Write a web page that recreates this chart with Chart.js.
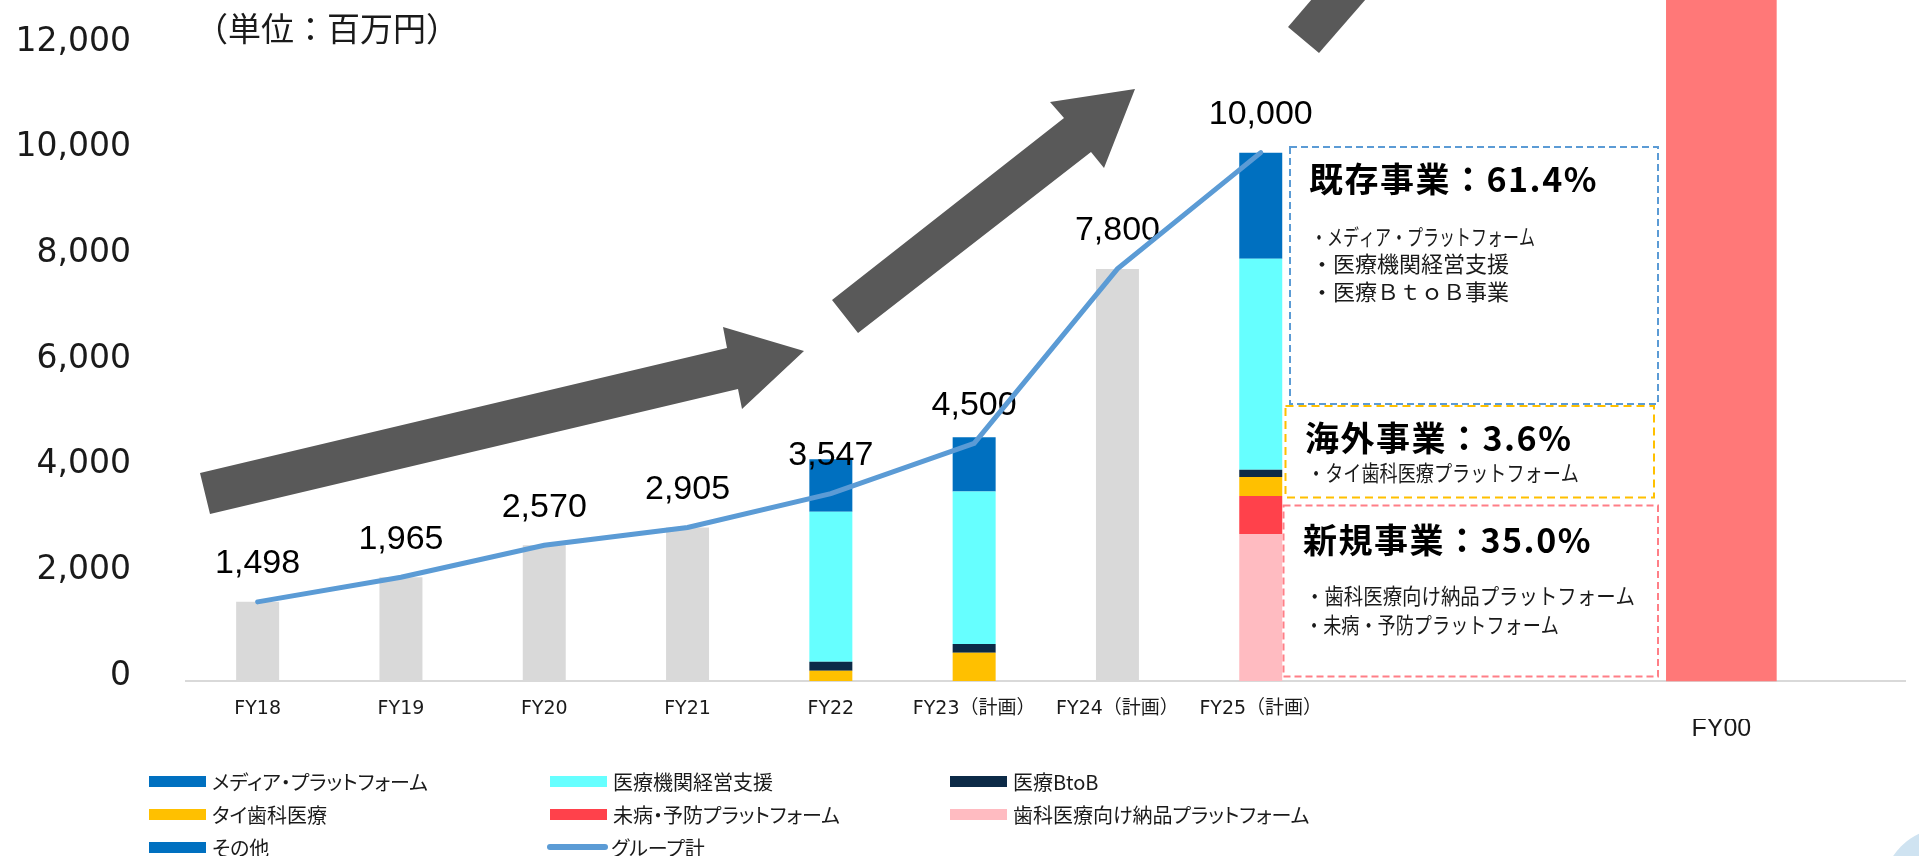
<!DOCTYPE html>
<html lang="ja">
<head>
<meta charset="utf-8">
<title>グループ売上推移</title>
<script src="https://cdn.jsdelivr.net/npm/chart.js@4.4.1/dist/chart.umd.min.js"></script>
<style>
  html, body { margin: 0; padding: 0; background: #fff; }
  #wrap { position: relative; width: 1919px; height: 856px; overflow: hidden; }
  #chart { position: absolute; left: 0; top: 0; }
  #legend { position: absolute; left: 0; top: 0; width: 1919px; height: 856px; pointer-events: none;
    font-family: 'Noto Sans CJK JP', sans-serif; font-size: 20px; color: #1a1a1a; font-feature-settings: 'palt'; }
  .item { position: absolute; display: flex; align-items: center; height: 30px; white-space: nowrap; }
  .item .sw { width: 57px; height: 11px; margin-right: 6px; }
  .item .ln { width: 61px; height: 6px; border-radius: 3px; margin-right: 3px; }
</style>
</head>
<body>
<div id="wrap">
  <canvas id="chart" width="1919" height="856"></canvas>
  <div id="legend"></div>
</div>
<script>
// 値（単位：百万円）
const categories = ['FY18', 'FY19', 'FY20', 'FY21', 'FY22', 'FY23（計画）', 'FY24（計画）', 'FY25（計画）'];
const groupTotal = [1498, 1965, 2570, 2905, 3547, 4500, 7800, 10000];
const totalOnly = [1498, 1965, 2570, 2905, null, null, 7800, null];
const mediaPlatform = [null, null, null, null, 990, 1030, null, 2010];
const clinicSupport = [null, null, null, null, 2840, 2885, null, 3990];
const medicalBtoB = [null, null, null, null, 170, 165, null, 140];
const thaiDental = [null, null, null, null, 195, 535, null, 360];
const preventive = [null, null, null, null, null, null, null, 720];
const dentalSupply = [null, null, null, null, null, null, null, 2780];
const others = [null, null, null, null, null, null, null, null];
const fy00Labels = ['FY00'];
const fy00Values = [13000];
const yTicks = [0, 2000, 4000, 6000, 8000, 10000, 12000];

// レイアウト
const slotCount = 12;      // 8 periods + empty room on the right
const x2Slots = 14;        // finer grid for the separate FY00 bar
const fy00Slot = 12;

const last = categories.length - 1;
const pct = v => (v / groupTotal[last] * 100).toFixed(1) + '%';
const existingShare = pct(mediaPlatform[last] + clinicSupport[last] + medicalBtoB[last]);
const overseasShare = pct(thaiDental[last]);
const newShare = pct(preventive[last] + dentalSupply[last]);

const x2Labels = new Array(x2Slots).fill('');
x2Labels[fy00Slot] = fy00Labels[0];

const arrows = [
  [[200, 473], [727, 348], [723, 327], [804, 351], [742, 409], [738, 389], [210, 514]],
  [[832, 300], [1064, 118], [1050, 102], [1135, 89], [1104, 168], [1091, 152], [858, 333]],
  [[1288, 27], [1312, -1], [1366, -1], [1319, 53]]
];

const boxes = [
  { x: 1290, y: 147, w: 368, h: 257, color: '#5b9bd5', dash: [7, 4],
    title: '既存事業：' + existingShare, tx: 1309, ty: 179,
    lines: [
      { text: '・メディア・プラットフォーム', y: 237, max: 224 },
      { text: '・医療機関経営支援', y: 264 },
      { text: '・医療ＢｔｏＢ事業', y: 292 }
    ] },
  { x: 1285.5, y: 406, w: 368.5, h: 91.5, color: '#ffc000', dash: [8, 5],
    title: '海外事業：' + overseasShare, tx: 1305, ty: 438,
    lines: [
      { text: '・タイ歯科医療プラットフォーム', y: 473, max: 272 }
    ] },
  { x: 1283.5, y: 505.5, w: 374.5, h: 171, color: '#ff7f87', dash: [7, 4],
    title: '新規事業：' + newShare, tx: 1303, ty: 540,
    lines: [
      { text: '・歯科医療向け納品プラットフォーム', y: 596, max: 330 },
      { text: '・未病・予防プラットフォーム', y: 625, max: 254 }
    ] }
];

const valueLabels = {
  id: 'valueLabels',
  beforeDatasetDraw(chart, args) {
    if (chart.data.datasets[args.index].label !== 'グループ計') return;
    const c = chart.ctx;
    c.save();
    c.font = '34px "Liberation Sans", Arial, sans-serif';
    c.fillStyle = '#000';
    c.textAlign = 'center';
    c.textBaseline = 'middle';
    args.meta.data.forEach((pt, i) => {
      c.fillText(groupTotal[i].toLocaleString('en-US'), pt.x, pt.y - 38);
    });
    c.restore();
  }
};

const annotations = {
  id: 'annotations',
  beforeDraw(chart) {
    const c = chart.ctx;
    c.save();
    c.fillStyle = '#cfe3f1';
    c.beginPath();
    c.arc(1945, 890, 62, 0, Math.PI * 2);
    c.fill();
    c.restore();
  },
  afterDraw(chart) {
    const c = chart.ctx;
    c.save();
    c.fillStyle = '#1a1a1a';
    c.font = '33px "Noto Sans CJK JP", sans-serif';
    c.textAlign = 'left';
    c.textBaseline = 'middle';
    c.fillText('（単位：百万円）', 195, 28);

    c.fillStyle = '#595959';
    arrows.forEach(poly => {
      c.beginPath();
      poly.forEach((p, i) => i ? c.lineTo(p[0], p[1]) : c.moveTo(p[0], p[1]));
      c.closePath();
      c.fill();
    });

    boxes.forEach(b => {
      c.setLineDash(b.dash);
      c.lineWidth = 2;
      c.strokeStyle = b.color;
      c.strokeRect(b.x, b.y, b.w, b.h);
      c.setLineDash([]);
      c.fillStyle = '#000';
      c.font = 'bold 34px "Noto Sans CJK JP", sans-serif';
      c.letterSpacing = '1.5px';
      c.fillText(b.title, b.tx, b.ty);
      c.letterSpacing = '0px';
      c.fillStyle = '#1a1a1a';
      c.font = '22px "Noto Sans CJK JP", sans-serif';
      b.lines.forEach(l => {
        if (l.max) c.fillText(l.text, b.tx + 2, l.y, l.max);
        else c.fillText(l.text, b.tx + 2, l.y);
      });
    });
    c.restore();
  }
};

const barSet = (label, data, color) => ({
  type: 'bar', label: label, data: data, backgroundColor: color, stack: 'main', grouped: false,
  borderWidth: 0, barPercentage: 0.3, categoryPercentage: 1, order: 1
});

const ctx = document.getElementById('chart').getContext('2d');
const chart = new Chart(ctx, {
  data: {
    labels: categories.concat(new Array(slotCount - categories.length).fill('')),
    datasets: [
      barSet('実績', totalOnly, '#d9d9d9'),
      barSet('歯科医療向け納品プラットフォーム', dentalSupply, '#ffbbc1'),
      barSet('未病・予防プラットフォーム', preventive, '#ff414b'),
      barSet('タイ歯科医療', thaiDental, '#ffc000'),
      barSet('医療BtoB', medicalBtoB, '#0c2a47'),
      barSet('医療機関経営支援', clinicSupport, '#66ffff'),
      barSet('メディア・プラットフォーム', mediaPlatform, '#0070c0'),
      barSet('その他', others, '#0070c0'),
      {
        type: 'line', label: 'グループ計', data: groupTotal, stack: 'total',
        borderColor: '#5b9bd5', borderWidth: 5, pointRadius: 0, tension: 0,
        borderCapStyle: 'round', fill: false, order: 0
      },
      {
        type: 'bar', label: fy00Labels[0], xAxisID: 'x2', grouped: false, stack: 'fy00',
        data: fy00Values.map((v, i) => ({ x: fy00Labels[i], y: v })),
        backgroundColor: '#ff7878', borderWidth: 0, barThickness: 110, maxBarThickness: 110,
        clip: false, order: 1
      }
    ]
  },
  options: {
    responsive: false,
    devicePixelRatio: 1,
    animation: false,
    layout: { padding: { left: 0, top: 47, right: 13.4, bottom: 97 } },
    plugins: { legend: { display: false }, tooltip: { enabled: false } },
    scales: {
      x: {
        stacked: true,
        grid: { display: false, drawTicks: false },
        border: { display: true, color: '#d9d9d9', width: 2 },
        ticks: {
          autoSkip: false, maxRotation: 0, padding: 18.5, color: '#1a1a1a',
          font: { family: "'DejaVu Sans', 'Noto Sans CJK JP'", size: 19, lineHeight: 1 }
        },
        afterFit: s => { s.height = 38; }
      },
      x2: {
        type: 'category', position: 'bottom', labels: x2Labels, offset: true,
        grid: { display: false, drawTicks: false },
        border: { display: false },
        ticks: {
          autoSkip: false, maxRotation: 0, padding: 0, color: '#1a1a1a',
          font: { family: "'Liberation Sans', Arial", size: 25, lineHeight: 0.8 }
        },
        afterFit: s => { s.height = 40; }
      },
      y: {
        stacked: true, min: 0, max: 12000,
        grid: { display: false, drawTicks: false },
        border: { display: false },
        afterBuildTicks: s => { s.ticks = yTicks.map(v => ({ value: v })); },
        ticks: {
          padding: 55, labelOffset: -5, color: '#1a1a1a',
          font: { family: "'DejaVu Sans'", size: 33 },
          callback: v => v.toLocaleString('en-US')
        },
        afterFit: s => { s.width = 186; s.paddingTop = 0; s.paddingBottom = 0; }
      }
    }
  },
  plugins: [valueLabels, annotations]
});

// 凡例
const legendOrder = ['メディア・プラットフォーム', '医療機関経営支援', '医療BtoB', 'タイ歯科医療',
  '未病・予防プラットフォーム', '歯科医療向け納品プラットフォーム', 'その他', 'グループ計'];
const legendCols = [149, 550, 950];
const legendRows = [781, 814, 847];
const legendEl = document.getElementById('legend');
legendOrder.forEach((name, i) => {
  const ds = chart.data.datasets.find(d => d.label === name);
  const item = document.createElement('div');
  item.className = 'item';
  const isLine = ds.type === 'line';
  item.style.left = (legendCols[i % 3] - (isLine ? 3 : 0)) + 'px';
  item.style.top = (legendRows[Math.floor(i / 3)] - 15) + 'px';
  const sw = document.createElement('span');
  sw.className = isLine ? 'ln' : 'sw';
  sw.style.background = isLine ? ds.borderColor : ds.backgroundColor;
  const txt = document.createElement('span');
  txt.textContent = name;
  item.appendChild(sw);
  item.appendChild(txt);
  legendEl.appendChild(item);
});
</script>
</body>
</html>
